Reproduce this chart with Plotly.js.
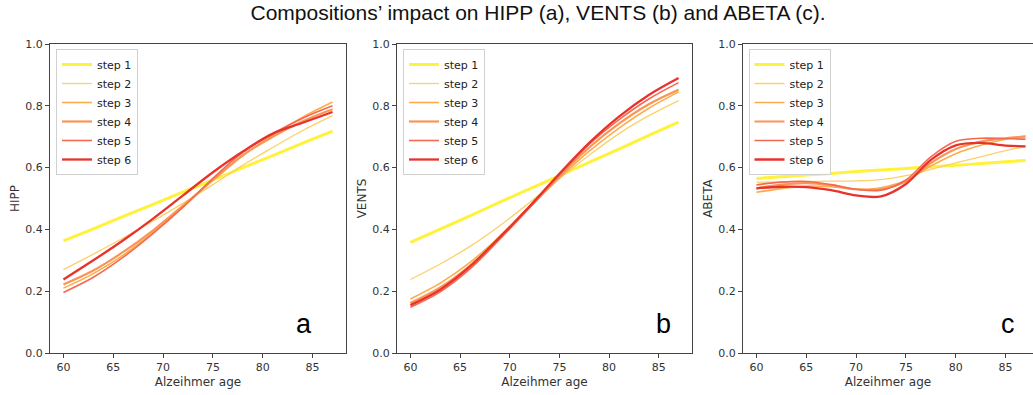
<!DOCTYPE html>
<html>
<head>
<meta charset="utf-8">
<script src="https://cdn.plot.ly/plotly-3.0.1.min.js"></script>
<style>html,body{margin:0;padding:0;background:#fff}#chart{width:1033px;height:395px}</style>
</head>
<body>
<div id="chart"></div>
<script>
// ---------- data ----------
const chartTitle = "Compositions’ impact on HIPP (a), VENTS (b) and ABETA (c).";
const stepNames = ["step 1", "step 2", "step 3", "step 4", "step 5", "step 6"];
const xLabel = "Alzeihmer age";
const panelYLabels = ["HIPP", "VENTS", "ABETA"];
const panelLetters = ["a", "b", "c"];

const agesAB = [60, 63, 66, 69, 72, 75, 78, 81, 84, 87];
const agesC = [60, 62.5, 65, 67.5, 70, 72.5, 75, 77.5, 80, 82.5, 85, 87];

// HIPP (a)
const hipp1 = [0.363, 0.402, 0.442, 0.481, 0.521, 0.560, 0.600, 0.639, 0.679, 0.718];
const hipp2 = [0.270, 0.320, 0.372, 0.427, 0.485, 0.545, 0.608, 0.665, 0.720, 0.768];
const hipp3 = [0.210, 0.257, 0.317, 0.390, 0.472, 0.560, 0.640, 0.705, 0.763, 0.812];
const hipp4 = [0.222, 0.267, 0.327, 0.397, 0.477, 0.560, 0.640, 0.700, 0.750, 0.789];
const hipp5 = [0.196, 0.245, 0.310, 0.387, 0.472, 0.565, 0.650, 0.710, 0.760, 0.800];
const hipp6 = [0.238, 0.300, 0.365, 0.435, 0.510, 0.585, 0.652, 0.710, 0.745, 0.780];

// VENTS (b)
const vents1 = [0.358, 0.401, 0.444, 0.488, 0.531, 0.574, 0.617, 0.660, 0.704, 0.747];
const vents2 = [0.238, 0.288, 0.345, 0.412, 0.487, 0.565, 0.640, 0.710, 0.768, 0.817];
const vents3 = [0.175, 0.226, 0.293, 0.378, 0.472, 0.566, 0.653, 0.728, 0.792, 0.845];
const vents4 = [0.162, 0.212, 0.283, 0.373, 0.472, 0.572, 0.665, 0.742, 0.805, 0.852];
const vents5 = [0.148, 0.198, 0.272, 0.368, 0.470, 0.577, 0.675, 0.755, 0.822, 0.875];
const vents6 = [0.155, 0.205, 0.280, 0.375, 0.475, 0.580, 0.680, 0.765, 0.835, 0.890];

// ABETA (c)
const abeta1 = [0.565, 0.570, 0.576, 0.581, 0.587, 0.592, 0.597, 0.603, 0.608, 0.613, 0.619, 0.623];
const abeta2 = [0.553, 0.554, 0.555, 0.556, 0.557, 0.561, 0.574, 0.594, 0.615, 0.635, 0.655, 0.668];
const abeta3 = [0.520, 0.532, 0.540, 0.538, 0.530, 0.535, 0.558, 0.605, 0.645, 0.672, 0.692, 0.702];
const abeta4 = [0.533, 0.545, 0.550, 0.543, 0.530, 0.530, 0.556, 0.615, 0.660, 0.684, 0.695, 0.700];
const abeta5 = [0.544, 0.553, 0.555, 0.545, 0.530, 0.527, 0.560, 0.635, 0.685, 0.695, 0.694, 0.692];
const abeta6 = [0.533, 0.538, 0.537, 0.527, 0.510, 0.507, 0.547, 0.625, 0.672, 0.680, 0.671, 0.669];

const yTickVals = [0, 0.2, 0.4, 0.6, 0.8, 1.0];
const xTickVals = [60, 65, 70, 75, 80, 85];

// ---------- styles ----------
const stepColors = ["#fff23a", "#fdd06a", "#fdac4a", "#f99656", "#f46a50", "#e8322c"];
const stepWidths = [3, 1.3, 1.6, 2.2, 1.6, 2.3];
const W = 1033, H = 395;
const px = v => v / W;
const py = v => 1 - v / H;

const panels = [
  {ages: agesAB, series: [hipp1, hipp2, hipp3, hipp4, hipp5, hipp6], dom: [50, 346], range: [58.65, 88.35], legendX: 56, letterX: 303.5},
  {ages: agesAB, series: [vents1, vents2, vents3, vents4, vents5, vents6], dom: [397, 692], range: [58.65, 88.35], legendX: 403, letterX: 663},
  {ages: agesC, series: [abeta1, abeta2, abeta3, abeta4, abeta5, abeta6], dom: [743, 1033], range: [58.65, 87.75], legendX: 748.5, letterX: 1008}
];

const axisFont = {family: "DejaVu Sans", size: 11, color: "#333"};
const titleFont = {family: "DejaVu Sans", size: 12, color: "#333"};
const traces = [];
const layout = {
  width: W, height: H,
  margin: {l: 0, r: 0, t: 0, b: 0},
  paper_bgcolor: "#fff", plot_bgcolor: "#fff",
  showlegend: true,
  title: {text: chartTitle, x: px(538), xanchor: "center", y: py(13), yanchor: "middle",
          font: {family: "Liberation Sans", size: 21, color: "#111"}},
  annotations: []
};

panels.forEach((p, k) => {
  const sfx = k === 0 ? "" : String(k + 1);
  const legName = "legend" + sfx;
  p.series.forEach((ys, i) => {
    traces.push({
      type: "scatter", mode: "lines", x: p.ages, y: ys, name: stepNames[i],
      xaxis: "x" + sfx, yaxis: "y" + sfx, legend: legName,
      line: {color: stepColors[i], width: stepWidths[i], shape: "spline", smoothing: 1},
      hoverinfo: "x+y+name"
    });
  });
  layout["xaxis" + sfx] = {
    domain: [px(p.dom[0]), px(p.dom[1])], range: p.range, anchor: "y" + sfx,
    tickvals: xTickVals, ticks: "outside", ticklen: 4, tickcolor: "#444",
    showline: true, linecolor: "#444", linewidth: 1, mirror: true,
    showgrid: false, zeroline: false, tickfont: axisFont,
    title: {text: xLabel, font: titleFont, standoff: 4}
  };
  layout["yaxis" + sfx] = {
    domain: [1 - 353 / H, 1 - 44 / H], range: [0, 1], anchor: "x" + sfx,
    tickvals: yTickVals, tickformat: ".1f", ticks: "outside", ticklen: 4, tickcolor: "#444",
    showline: true, linecolor: "#444", linewidth: 1, mirror: true,
    showgrid: false, zeroline: false, tickfont: axisFont,
    title: {text: panelYLabels[k], font: titleFont, standoff: 3}
  };
  layout[legName] = {
    x: px(p.legendX), y: py(49), xanchor: "left", yanchor: "top",
    xref: "paper", yref: "paper",
    bgcolor: "rgba(255,255,255,0.85)", bordercolor: "#d0d0d0", borderwidth: 1,
    font: {family: "DejaVu Sans", size: 11, color: "#222"},
    itemwidth: 30
  };
  layout.annotations.push({
    text: panelLetters[k], xref: "paper", yref: "paper",
    x: px(p.letterX), y: py(324), xanchor: "center", yanchor: "middle",
    showarrow: false, font: {family: "Liberation Sans", size: 27, color: "#000"}
  });
});

Plotly.newPlot("chart", traces, layout, {displayModeBar: false, staticPlot: true});
</script>
</body>
</html>
